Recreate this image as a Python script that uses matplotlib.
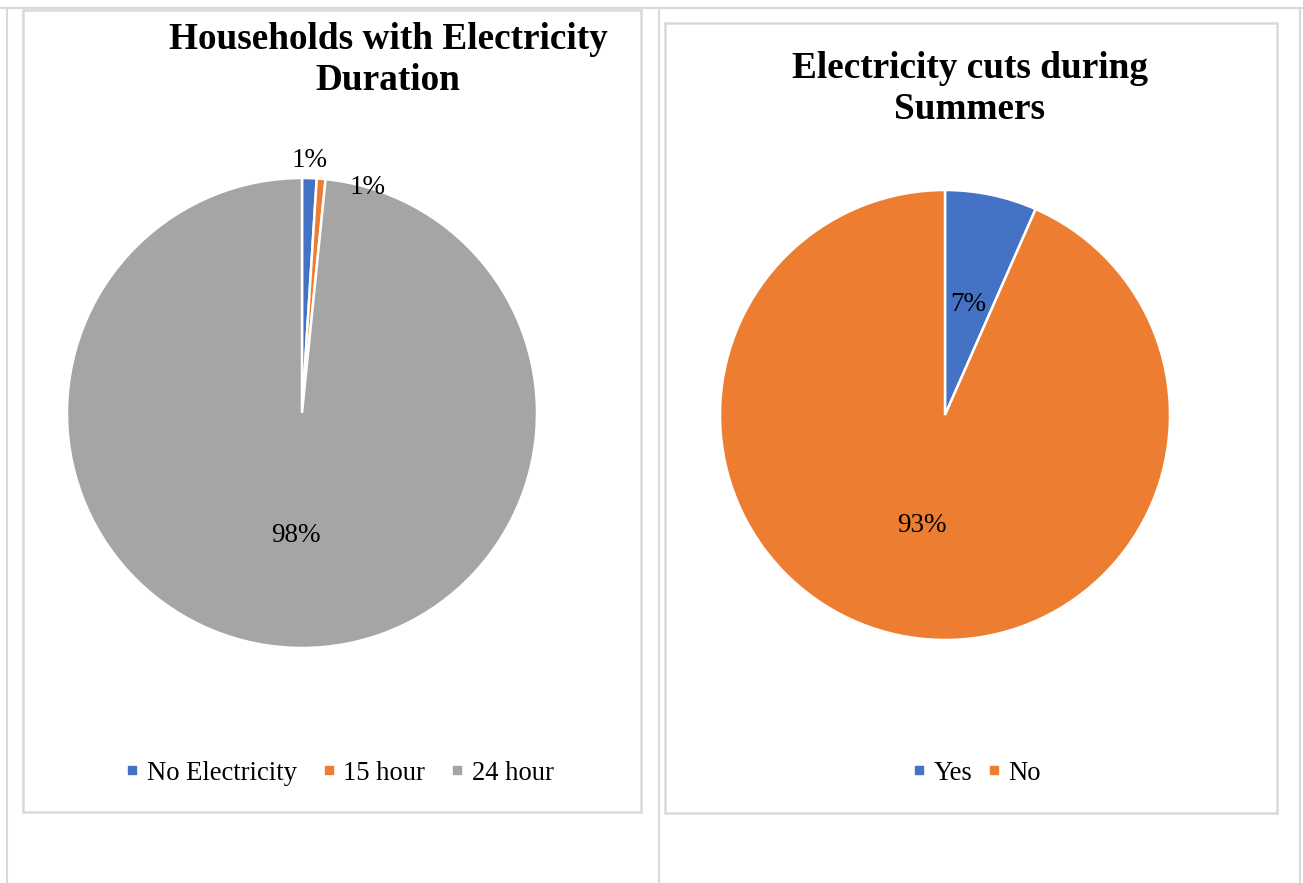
import numpy as np
import matplotlib
matplotlib.use("Agg")
import matplotlib.pyplot as plt
from matplotlib.lines import Line2D
from matplotlib.patches import Rectangle

# ---------------- data ----------------
left_title = "Households with Electricity\nDuration"
left_labels = ["No Electricity", "15 hour", "24 hour"]
left_values = [1.0, 0.6, 98.4]
left_colors = ["#4472C4", "#ED7D31", "#A5A5A5"]

right_title = "Electricity cuts during\nSummers"
right_labels = ["Yes", "No"]
right_values = [6.6, 93.4]
right_colors = ["#4472C4", "#ED7D31"]

W, H = 1303, 883
plt.rcParams['font.family'] = ['Liberation Serif', 'DejaVu Serif']
fig = plt.figure(figsize=(W / 100, H / 100), dpi=100)

def fx(x):
    return x / W

def fy(y):
    return 1 - y / H

border = "#D9D9D9"

# table lines
def hline(y, x0, x1, lw=1.5):
    fig.add_artist(Line2D([fx(x0), fx(x1)], [fy(y), fy(y)], color=border, lw=lw))

def vline(x, y0, y1, lw=1.5):
    fig.add_artist(Line2D([fx(x), fx(x)], [fy(y0), fy(y1)], color=border, lw=lw))

hline(8, 0, 1303)
vline(7, 8, 883)
vline(659, 8, 883)
vline(1300, 8, 883)

# panel borders
def panel(x0, y0, x1, y1):
    fig.add_artist(Rectangle((fx(x0), fy(y1)), fx(x1) - fx(x0), fy(y0) - fy(y1),
                             fill=False, edgecolor=border, lw=1.8))

panel(23, 10, 641, 812)
panel(665, 23, 1277, 813)

def pie_axes(cx, cy, r):
    ax = fig.add_axes([fx(cx - r), fy(cy + r), 2 * r / W, 2 * r / H])
    ax.set_xlim(-1, 1)
    ax.set_ylim(-1, 1)
    ax.axis("off")
    return ax

# ---------------- left pie ----------------
axL = pie_axes(302, 413, 235)
wL, _, tL = axL.pie(left_values, colors=left_colors, startangle=90, counterclock=False,
                    radius=1, autopct="%.0f%%", pctdistance=0.52,
                    wedgeprops=dict(edgecolor="white", linewidth=1.8),
                    textprops=dict(fontsize=19.5, color="#000000"))
axL.set_xlim(-1, 1)
axL.set_ylim(-1, 1)
# move small-slice labels outside
for i, (dist, dang) in enumerate([(1.075, 0.0), (1.0, -11.5)]):
    w = wL[i]
    ang = np.deg2rad((w.theta1 + w.theta2) / 2 + dang)
    tL[i].set_position((dist * np.cos(ang), dist * np.sin(ang)))

fig.text(fx(388), fy(60), left_title, ha="center", va="center", fontsize=26.8,
         fontweight="bold", linespacing=1.22)

handlesL = [Line2D([], [], marker="s", ls="", color=c, markersize=6) for c in left_colors]
fig.legend(handlesL, left_labels, loc="center", bbox_to_anchor=(fx(339), fy(773)),
           ncol=3, frameon=False, fontsize=19.2, handlelength=0.6, handletextpad=0.25,
           columnspacing=0.9, borderpad=0)

# ---------------- right pie ----------------
axR = pie_axes(945, 415, 225)
wR, _, tR = axR.pie(right_values, colors=right_colors, startangle=90, counterclock=False,
                    radius=1, autopct="%.0f%%", pctdistance=0.5,
                    wedgeprops=dict(edgecolor="white", linewidth=1.8),
                    textprops=dict(fontsize=19.5, color="#000000"))
axR.set_xlim(-1, 1)
axR.set_ylim(-1, 1)

fig.text(fx(970), fy(89), right_title, ha="center", va="center", fontsize=26.8,
         fontweight="bold", linespacing=1.22)

handlesR = [Line2D([], [], marker="s", ls="", color=c, markersize=6) for c in right_colors]
fig.legend(handlesR, right_labels, loc="center", bbox_to_anchor=(fx(976), fy(773)),
           ncol=2, frameon=False, fontsize=19.2, handlelength=0.6, handletextpad=0.25,
           columnspacing=0.5, borderpad=0)

fig.savefig("out.png", dpi=100)
